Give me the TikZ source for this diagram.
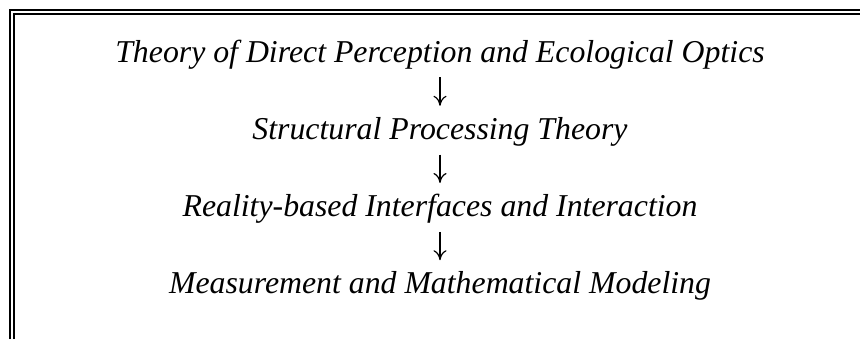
\documentclass[tikz,border=0pt]{standalone}
\usepackage{fontspec}
\setmainfont{Liberation Serif}
\usetikzlibrary{arrows.meta,positioning}
\tikzset{
  linebox/.style={font=\itshape\fontsize{15.9}{19}\selectfont,inner sep=0pt,
    text height=12pt,text depth=4pt,anchor=base},
  flowarrow/.style={-{To[length=5pt,width=6.5pt]},line width=0.6pt,
    shorten <=3.5pt,shorten >=4.5pt}
}
\begin{document}
\begin{tikzpicture}[x=1pt,y=1pt,every node/.style={align=center}]
  \useasboundingbox (0,0) rectangle (430,169.5);
  % double frame, cut off at right and bottom
  \draw[line width=1pt] (5,0) -- (5,164.5) -- (430,164.5);
  \draw[line width=0.65pt] (7,0) -- (7,162.5) -- (430,162.5);
  \foreach \i/\t in {0/Theory of Direct Perception and Ecological Optics,
                     1/Structural Processing Theory,
                     2/Reality-based Interfaces and Interaction,
                     3/Measurement and Mathematical Modeling}
    \node[linebox] (line\i) at (220,138.5-38.6*\i) {\t};
  \draw[flowarrow] (line0) -- (line1);
  \draw[flowarrow] (line1) -- (line2);
  \draw[flowarrow] (line2) -- (line3);
\end{tikzpicture}
\end{document}
